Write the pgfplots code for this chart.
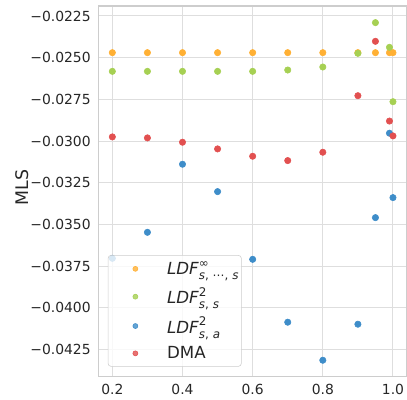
\documentclass[border=0pt]{standalone}
\usepackage{fontspec}
\setmainfont{DejaVu Sans}
\usepackage{pgfplots}
\pgfplotsset{compat=1.18}
\usetikzlibrary{calc}

\definecolor{cOrange}{RGB}{255,176,52}
\definecolor{cGreen}{RGB}{166,208,83}
\definecolor{cBlue}{RGB}{62,141,201}
\definecolor{cRed}{RGB}{226,80,80}
\definecolor{gridc}{RGB}{222,222,222}
\definecolor{spinec}{RGB}{205,205,205}
\definecolor{txt}{RGB}{38,38,38}

% LDF with stacked super/subscript
\newcommand\ldf[2]{\textit{LDF}\makebox[0pt][l]{\raisebox{0.8ex}{\fontsize{8.6}{9}\selectfont #1}}\raisebox{-0.55ex}{\fontsize{8.6}{9}\selectfont #2}}

\begin{document}
\begin{tikzpicture}
\begin{axis}[
    name=ax,
    scale only axis,
    width=222.3pt, height=266.9pt,
    xmin=0.16, xmax=1.04,
    ymin=-0.04412, ymax=-0.0219,
    xtick={0.2,0.4,0.6,0.8,1.0},
    xticklabels={0.2,0.4,0.6,0.8,1.0},
    ytick={-0.0425,-0.04,-0.0375,-0.035,-0.0325,-0.03,-0.0275,-0.025,-0.0225},
    yticklabels={−0.0425,−0.0400,−0.0375,−0.0350,−0.0325,−0.0300,−0.0275,−0.0250,−0.0225},
    tick style={draw=none},
    ticklabel style={font=\fontsize{10}{12}\selectfont, text=txt},
    xticklabel style={yshift=-2pt},
    yticklabel style={xshift=-2pt},
    grid=major,
    major grid style={draw=gridc, line width=0.7pt},
    axis line style={draw=spinec, line width=0.8pt},
    every axis y label/.style={at={(axis description cs:-0.247,0.51)}, rotate=90, anchor=center},
    ylabel={MLS},
    ylabel style={font=\fontsize{12.5}{14}\selectfont, text=txt},
    legend cell align=left,
    legend style={at={(0.031,0.027)}, anchor=south west,
        draw=spinec, rounded corners=2pt,
        fill=white, fill opacity=0.8, text opacity=1, draw opacity=1,
        inner xsep=0pt, inner ysep=2.2pt, row sep=4pt,
        font=\fontsize{12}{14}\selectfont, text=txt},
    legend image code/.code={\path (0pt,0pt) (40pt,0pt); \draw[#1, mark size=1.8pt] plot coordinates {(19.4pt,0pt)};},
    every axis plot/.append style={only marks, mark=*, mark size=2.3pt,
        mark options={draw=white, line width=0.3pt}},
]
\coordinate (sw) at (rel axis cs:0,0);
\coordinate (ne) at (rel axis cs:1,1);

\addplot[cOrange, mark options={fill=cOrange}] coordinates {
(0.2,-0.0247) (0.3,-0.0247) (0.4,-0.0247) (0.5,-0.0247) (0.6,-0.0247)
(0.7,-0.0247) (0.8,-0.0247) (0.9,-0.0247) (0.95,-0.0247) (0.99,-0.0247) (1.0,-0.0247)};
\addlegendentry{\ldf{∞}{\textit{s}, ⋯, \textit{s}}}

\addplot[cGreen, mark options={fill=cGreen}] coordinates {
(0.2,-0.02582) (0.3,-0.02582) (0.4,-0.02582) (0.5,-0.02582) (0.6,-0.02582)
(0.7,-0.02574) (0.8,-0.02556) (0.9,-0.02474) (0.95,-0.02290) (0.99,-0.02438) (1.0,-0.02764)};
\addlegendentry{\ldf{2}{\textit{s}, \textit{s}}}

\addplot[cBlue, mark options={fill=cBlue}] coordinates {
(0.2,-0.03703) (0.3,-0.03547) (0.4,-0.03139) (0.5,-0.03303) (0.6,-0.03709)
(0.7,-0.04086) (0.8,-0.04314) (0.9,-0.04098) (0.95,-0.03459) (0.99,-0.02953) (1.0,-0.03339)};
\addlegendentry{\ldf{2}{\textit{s}, \textit{a}}}

\addplot[cRed, mark options={fill=cRed}] coordinates {
(0.2,-0.02975) (0.3,-0.02981) (0.4,-0.03007) (0.5,-0.03047) (0.6,-0.03091)
(0.7,-0.03117) (0.8,-0.03067) (0.9,-0.02728) (0.95,-0.02402) (0.99,-0.02880) (1.0,-0.02969)};
\addlegendentry{DMA}
\end{axis}
\pgfresetboundingbox
\path[use as bounding box] ($(sw)+(-70.8pt,-16.8pt)$) rectangle ($(ne)+(0pt,4.3pt)$);
\end{tikzpicture}
\end{document}
